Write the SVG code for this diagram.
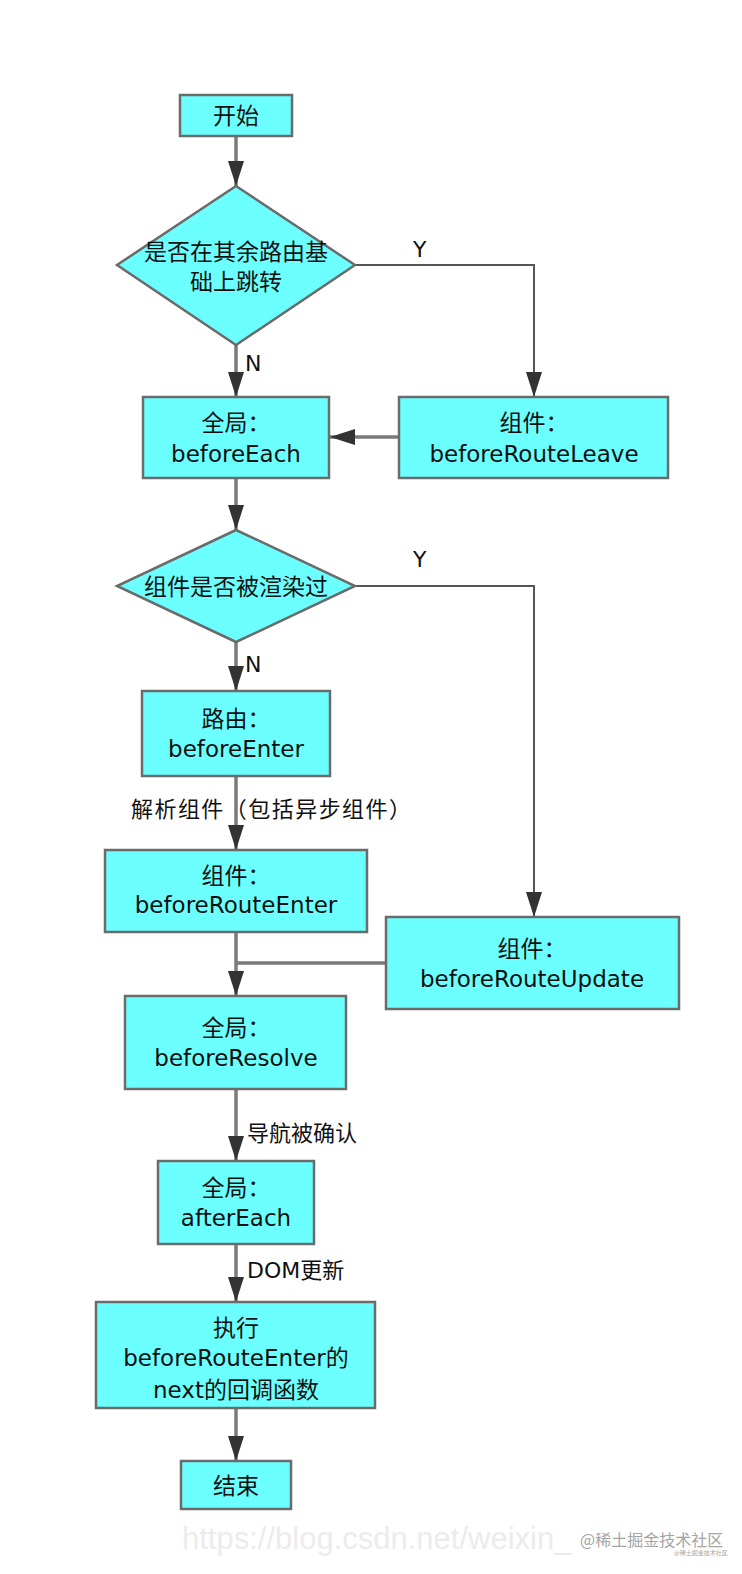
<svg xmlns="http://www.w3.org/2000/svg" width="742" height="1574" viewBox="0 0 742 1574">
<style>
.n{fill:#6bffff;stroke:#6b6b6b;stroke-width:2.5}
.t{font-family:"DejaVu Sans","Noto Sans CJK SC",sans-serif;font-size:23px;fill:#111;text-anchor:middle;dominant-baseline:central}
.l{font-family:"DejaVu Sans","Noto Sans CJK SC",sans-serif;font-size:22px;fill:#111;dominant-baseline:central}
.c{fill:none;stroke:#7a7a7a;stroke-width:3.5}
.y{fill:none;stroke:#555;stroke-width:2}
.w{font-family:"Liberation Sans",sans-serif;fill:#ececec}
.wc{font-family:"Noto Sans CJK SC",sans-serif;fill:#a5a5a5}
</style>
<defs>
<marker id="a" markerUnits="userSpaceOnUse" markerWidth="25" markerHeight="16" refX="25" refY="8" orient="auto">
<path d="M0,0 L25,8 L0,16 z" fill="#333"/>
</marker>
</defs>
<rect width="742" height="1574" fill="#fff"/>
<g id="connectors">
<path class="c" d="M236,137 V186" marker-end="url(#a)"/>
<path class="y" d="M355,265 H534 V397" marker-end="url(#a)"/>
<path class="c" d="M236,345 V397" marker-end="url(#a)"/>
<path class="c" d="M399,437 H330" marker-end="url(#a)"/>
<path class="c" d="M236,478 V530" marker-end="url(#a)"/>
<path class="y" d="M355,586 H534 V917" marker-end="url(#a)"/>
<path class="c" d="M236,642 V691" marker-end="url(#a)"/>
<path class="c" d="M236,776 V850" marker-end="url(#a)"/>
<path class="c" d="M236,932 V996" marker-end="url(#a)"/>
<path class="c" d="M386,963 H236"/>
<path class="c" d="M236,1089 V1161" marker-end="url(#a)"/>
<path class="c" d="M236,1244 V1302" marker-end="url(#a)"/>
<path class="c" d="M236,1408 V1461" marker-end="url(#a)"/>
<text class="l" x="413" y="249">Y</text>
<text class="l" x="245" y="363">N</text>
<text class="l" x="413" y="559">Y</text>
<text class="l" x="245" y="664">N</text>
<text class="l" x="131" y="809" textLength="280" lengthAdjust="spacing">解析组件（包括异步组件）</text>
<text class="l" x="247" y="1133">导航被确认</text>
<text class="l" x="247" y="1270">DOM更新</text>
</g>
<g id="start">
<rect class="n" x="180" y="95" width="112" height="41"/>
<text class="t" x="236" y="116">开始</text>
</g>
<g id="decision1">
<polygon class="n" points="236,186 355,265 236,345 117,265"/>
<text class="t" x="236" y="252">是否在其余路由基</text>
<text class="t" x="236" y="282">础上跳转</text>
</g>
<g id="beforeEach">
<rect class="n" x="143" y="397" width="186" height="81"/>
<text class="t" x="236" y="423">全局：</text>
<text class="t" x="236" y="454">beforeEach</text>
</g>
<g id="beforeRouteLeave">
<rect class="n" x="399" y="397" width="269" height="81"/>
<text class="t" x="534" y="423">组件：</text>
<text class="t" x="534" y="454">beforeRouteLeave</text>
</g>
<g id="decision2">
<polygon class="n" points="236,530 355,586 236,642 117,586"/>
<text class="t" x="236" y="587">组件是否被渲染过</text>
</g>
<g id="beforeEnter">
<rect class="n" x="142" y="691" width="188" height="85"/>
<text class="t" x="236" y="719">路由：</text>
<text class="t" x="236" y="749">beforeEnter</text>
</g>
<g id="beforeRouteEnter">
<rect class="n" x="105" y="850" width="262" height="82"/>
<text class="t" x="236" y="876">组件：</text>
<text class="t" x="236" y="905">beforeRouteEnter</text>
</g>
<g id="beforeRouteUpdate">
<rect class="n" x="386" y="917" width="293" height="92"/>
<text class="t" x="532" y="949">组件：</text>
<text class="t" x="532" y="979">beforeRouteUpdate</text>
</g>
<g id="beforeResolve">
<rect class="n" x="125" y="996" width="221" height="93"/>
<text class="t" x="236" y="1028">全局：</text>
<text class="t" x="236" y="1058">beforeResolve</text>
</g>
<g id="afterEach">
<rect class="n" x="158" y="1161" width="156" height="83"/>
<text class="t" x="236" y="1188">全局：</text>
<text class="t" x="236" y="1218">afterEach</text>
</g>
<g id="callback">
<rect class="n" x="96" y="1302" width="279" height="106"/>
<text class="t" x="236" y="1328">执行</text>
<text class="t" x="236" y="1358">beforeRouteEnter的</text>
<text class="t" x="236" y="1390">next的回调函数</text>
</g>
<g id="end">
<rect class="n" x="181" y="1461" width="110" height="48"/>
<text class="t" x="236" y="1486">结束</text>
</g>
<g id="watermark">
<text class="w" x="182" y="1549" font-size="31">https://blog.csdn.net/weixin_</text>
<text class="wc" x="580" y="1546" font-size="16">@稀土掘金技术社区</text>
<text class="wc" x="674" y="1555" font-size="6">@稀土掘金技术社区</text>
</g>
</svg>
